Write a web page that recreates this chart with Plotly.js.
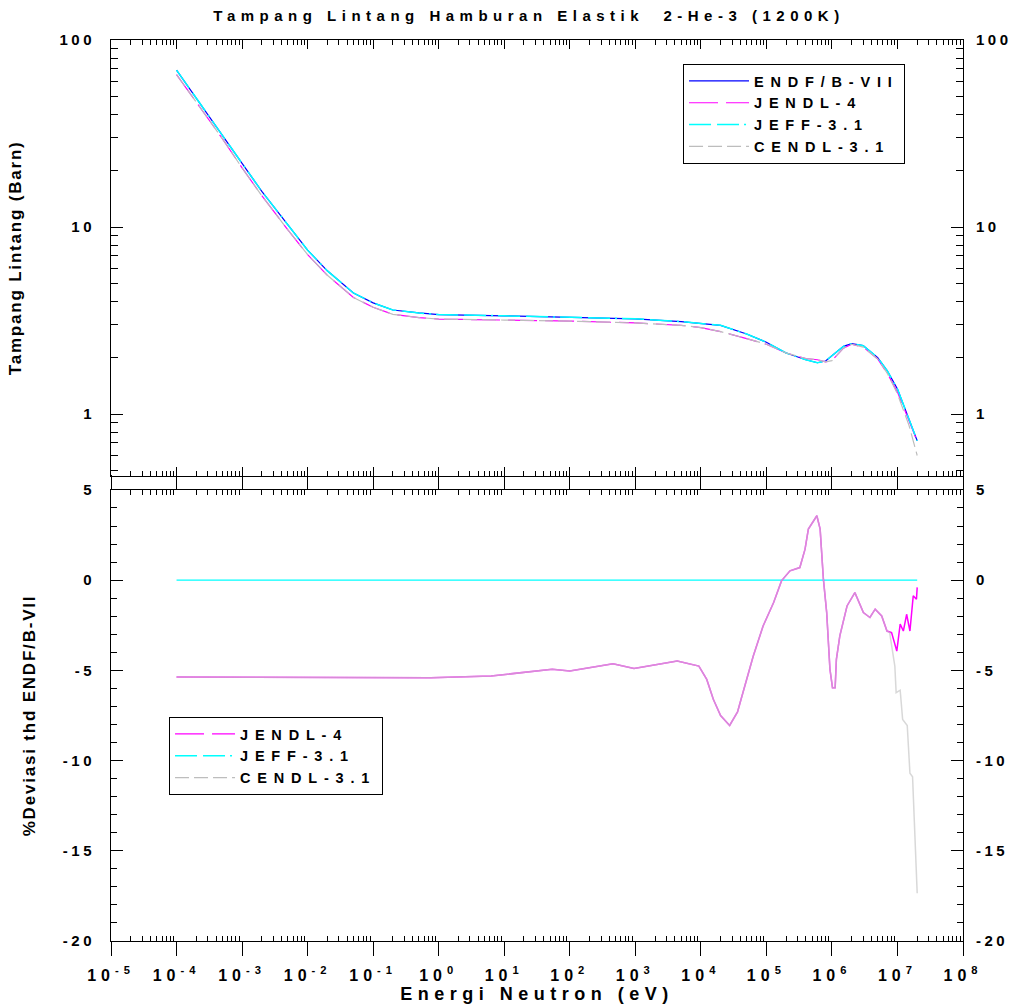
<!DOCTYPE html>
<html>
<head>
<meta charset="utf-8">
<script src="https://cdn.plot.ly/plotly-3.0.1.min.js"></script>
<style>
  html, body { margin: 0; padding: 0; background: #fff; }
  #chart { width: 1032px; height: 1006px; }
  .gtitle { letter-spacing: 5.5px; }
  .legend text, .legend2 text, .legendtext { letter-spacing: 6.8px; }
  .xtick text, .x2tick text { letter-spacing: 5px; }
  .ytick text, .y2tick text, .y3tick text, .y4tick text { letter-spacing: 3.5px; }
  .x2title { letter-spacing: 5.5px; }
  .ytitle, .y2title { letter-spacing: 1.8px; }
</style>
</head>
<body>
<div id="chart"></div>
<script>
// ---------- data ----------
const energyTop = [1e-4, 2e-4, 5e-4, 1e-3, 2e-3, 5e-3, 1e-2, 2e-2, 5e-2, 0.1, 0.2, 0.5, 1, 10, 100, 1e3, 5e3, 1e4, 2e4, 5e4, 1e5, 2e5, 4e5, 6e5, 8e5, 1e6, 1.5e6, 2e6, 3e6, 5e6, 7e6, 1e7, 1.5e7, 2e7];
const sigmaEndf  = [69, 48.9, 31.4, 21.9, 15.5, 10.2, 7.52, 5.83, 4.44, 3.93, 3.60, 3.47, 3.40, 3.35, 3.30, 3.23, 3.12, 3.05, 2.98, 2.68, 2.42, 2.12, 1.95, 1.88, 1.92, 2.05, 2.30, 2.38, 2.32, 2.00, 1.70, 1.36, 0.95, 0.72];
const sigmaJendl = [65.3, 46.3, 29.7, 20.7, 14.7, 9.65, 7.12, 5.52, 4.20, 3.72, 3.41, 3.28, 3.22, 3.18, 3.14, 3.07, 2.98, 2.90, 2.76, 2.53, 2.36, 2.12, 1.98, 1.95, 1.90, 1.93, 2.25, 2.36, 2.28, 1.97, 1.65, 1.31, 0.92, 0.716];
const sigmaJeff  = [69, 48.9, 31.4, 21.9, 15.5, 10.2, 7.52, 5.83, 4.44, 3.93, 3.60, 3.47, 3.40, 3.35, 3.30, 3.23, 3.12, 3.05, 2.98, 2.68, 2.42, 2.12, 1.95, 1.88, 1.92, 2.05, 2.30, 2.38, 2.32, 2.00, 1.70, 1.36, 0.95, 0.72];
const sigmaCendl = [65.3, 46.3, 29.7, 20.7, 14.7, 9.65, 7.12, 5.52, 4.20, 3.72, 3.41, 3.28, 3.22, 3.18, 3.14, 3.07, 2.98, 2.90, 2.76, 2.53, 2.36, 2.12, 1.98, 1.95, 1.90, 1.93, 2.25, 2.36, 2.28, 1.97, 1.65, 1.28, 0.87, 0.60];

const energyDevJendl = [1e-4, 1e-3, 1e-2, 0.1, 0.168, 0.76, 6.3, 54, 100, 457, 955, 4365, 9330, 1.23e4, 1.55e4, 2.0e4, 2.75e4, 3.63e4, 4.17e4, 6.31e4, 8.91e4, 1.29e5, 1.70e5, 2.29e5, 3.24e5, 3.89e5, 4.37e5, 5.89e5, 6.61e5, 7.41e5, 8.32e5, 9.33e5, 1.02e6, 1.12e6, 1.17e6, 1.32e6, 1.70e6, 2.24e6, 3.02e6, 3.80e6, 4.57e6, 5.75e6, 6.92e6, 8.13e6, 9.77e6, 1.10e7, 1.23e7, 1.38e7, 1.55e7, 1.74e7, 1.95e7, 2.0e7];
const devJendl = [-5.37, -5.37, -5.37, -5.37, -5.37, -5.41, -5.31, -4.94, -5.04, -4.63, -4.89, -4.48, -4.76, -5.5, -6.6, -7.5, -8.05, -7.3, -6.52, -4.2, -2.54, -1.24, -0.04, 0.52, 0.7, 1.72, 2.83, 3.57, 2.83, 0.06, -1.8, -4.94, -5.96, -5.96, -4.39, -3.09, -1.43, -0.69, -1.8, -2.07, -1.61, -1.98, -2.82, -2.91, -3.93, -2.44, -2.82, -1.89, -2.82, -0.87, -1.06, -0.4];

const energyDevCendl = [1e-4, 1e-3, 1e-2, 0.1, 0.168, 0.76, 6.3, 54, 100, 457, 955, 4365, 9330, 1.23e4, 1.55e4, 2.0e4, 2.75e4, 3.63e4, 4.17e4, 6.31e4, 8.91e4, 1.29e5, 1.70e5, 2.29e5, 3.24e5, 3.89e5, 4.37e5, 5.89e5, 6.61e5, 7.41e5, 8.32e5, 9.33e5, 1.02e6, 1.12e6, 1.17e6, 1.32e6, 1.70e6, 2.24e6, 3.02e6, 3.80e6, 4.57e6, 5.75e6, 6.92e6, 7.59e6, 9.12e6, 9.55e6, 1.10e7, 1.20e7, 1.41e7, 1.55e7, 1.70e7, 1.86e7, 2.0e7];
const devCendl = [-5.37, -5.37, -5.37, -5.37, -5.37, -5.41, -5.31, -4.94, -5.04, -4.63, -4.89, -4.48, -4.76, -5.5, -6.6, -7.5, -8.05, -7.3, -6.52, -4.2, -2.54, -1.24, -0.04, 0.52, 0.7, 1.72, 2.83, 3.57, 2.83, 0.06, -1.8, -4.94, -5.96, -5.96, -4.39, -3.09, -1.43, -0.69, -1.8, -2.07, -1.61, -1.98, -2.82, -2.9, -4.76, -6.24, -6.1, -7.72, -8.06, -10.7, -10.9, -14.0, -17.35];

const energyDevJeff = [1e-4, 1e-2, 1, 100, 1e4, 1e6, 2e7];
const devJeff = [0, 0, 0, 0, 0, 0, 0];

const xTickVals = [1e-5, 1e-4, 1e-3, 1e-2, 1e-1, 1, 10, 100, 1e3, 1e4, 1e5, 1e6, 1e7, 1e8];
const xTickText = ['10<sup>-5</sup>', '10<sup>-4</sup>', '10<sup>-3</sup>', '10<sup>-2</sup>', '10<sup>-1</sup>', '10<sup>0</sup>', '10<sup>1</sup>', '10<sup>2</sup>', '10<sup>3</sup>', '10<sup>4</sup>', '10<sup>5</sup>', '10<sup>6</sup>', '10<sup>7</sup>', '10<sup>8</sup>'];
const yTopTickVals = [1, 10, 100];
const yTopTickText = ['1', '10', '100'];
const yDevTickVals = [-20, -15, -10, -5, 0, 5];
const yDevTickText = ['-20', '-15', '-10', '-5', '0', '5'];
const seriesNames = ['ENDF/B-VII', 'JENDL-4', 'JEFF-3.1', 'CENDL-3.1'];

// ---------- styling ----------
const FAM = 'Liberation Sans, Arial, Helvetica, sans-serif';
const colEndf = '#0000ff', colJendl = '#ff00ff', colJeff = '#00ffff', colCendl = '#bdbdbd';
const dashJendl = '29px,8px', dashJeff = '22px,6px,22px,5px,2px,5px', dashCendl = '14px,5px';

// minor tick positions for log axes (2..9 in each decade)
function logMinor(lo, hi) {
  const out = [];
  for (let d = lo; d < hi; d++) for (let m = 2; m <= 9; m++) out.push(m * Math.pow(10, d));
  return out;
}

const traces = [
  {x: energyTop, y: sigmaEndf, name: seriesNames[0], type: 'scatter', mode: 'lines', xaxis: 'x', yaxis: 'y',
   line: {color: colEndf, width: 1.2}, legend: 'legend'},
  {x: energyTop, y: sigmaJendl, name: seriesNames[1], type: 'scatter', mode: 'lines', xaxis: 'x', yaxis: 'y',
   line: {color: colJendl, width: 1.2, dash: dashJendl}, legend: 'legend'},
  {x: energyTop, y: sigmaJeff, name: seriesNames[2], type: 'scatter', mode: 'lines', xaxis: 'x', yaxis: 'y',
   line: {color: colJeff, width: 1.5, dash: dashJeff}, legend: 'legend'},
  {x: energyTop, y: sigmaCendl, name: seriesNames[3], type: 'scatter', mode: 'lines', xaxis: 'x', yaxis: 'y',
   line: {color: colCendl, width: 1.2, dash: dashCendl}, legend: 'legend'},

  {x: energyDevJeff, y: devJeff, name: seriesNames[2], type: 'scatter', mode: 'lines', xaxis: 'x2', yaxis: 'y2',
   line: {color: colJeff, width: 1.2}, showlegend: false},
  {x: energyDevJendl, y: devJendl, name: seriesNames[1], type: 'scatter', mode: 'lines', xaxis: 'x2', yaxis: 'y2',
   line: {color: colJendl, width: 1.5}, showlegend: false},
  {x: energyDevCendl, y: devCendl, name: seriesNames[3], type: 'scatter', mode: 'lines', xaxis: 'x2', yaxis: 'y2',
   line: {color: '#c8c8c8', width: 1.5}, opacity: 0.7, showlegend: false},

  // legend entries for the lower panel
  {x: [null], y: [null], name: seriesNames[1], type: 'scatter', mode: 'lines', xaxis: 'x2', yaxis: 'y2',
   line: {color: colJendl, width: 1.2, dash: dashJendl}, legend: 'legend2', showlegend: true},
  {x: [null], y: [null], name: seriesNames[2], type: 'scatter', mode: 'lines', xaxis: 'x2', yaxis: 'y2',
   line: {color: colJeff, width: 1.5, dash: dashJeff}, legend: 'legend2', showlegend: true},
  {x: [null], y: [null], name: seriesNames[3], type: 'scatter', mode: 'lines', xaxis: 'x2', yaxis: 'y2',
   line: {color: colCendl, width: 1.2, dash: dashCendl}, legend: 'legend2', showlegend: true},

  // empty traces so the right-hand label axes are drawn
  {x: [null], y: [null], type: 'scatter', mode: 'lines', xaxis: 'x', yaxis: 'y3', showlegend: false, hoverinfo: 'skip'},
  {x: [null], y: [null], type: 'scatter', mode: 'lines', xaxis: 'x2', yaxis: 'y4', showlegend: false, hoverinfo: 'skip'}
];

const tickFont = {family: FAM, size: 15, color: '#000', weight: 700};
const baseX = {
  type: 'log', range: [-5, 8], showgrid: false, zeroline: false,
  showline: true, linecolor: '#000', linewidth: 1, mirror: 'ticks',
  tickmode: 'array', tickvals: xTickVals, ticktext: xTickText,
  tickcolor: '#000', tickwidth: 1
};
const legendFont = {family: FAM, size: 14.5, color: '#000', weight: 700};

const layout = {
  width: 1032, height: 1006,
  paper_bgcolor: '#fff', plot_bgcolor: '#fff',
  margin: {l: 111, r: 69, t: 40, b: 65},
  font: {family: FAM, color: '#000'},
  title: {text: 'Tampang Lintang Hamburan Elastik  2-He-3 (1200K)',
          font: {family: FAM, size: 15, color: '#000', weight: 700},
          x: 0.5126, xanchor: 'center', y: 0.984, yanchor: 'middle'},
  xaxis: Object.assign({}, baseX, {
    domain: [0, 1], anchor: 'y', ticks: 'inside', ticklen: 9, showticklabels: false,
    minor: {ticks: 'inside', ticklen: 5, tickcolor: '#000', tickmode: 'array', tickvals: logMinor(-5, 8), showgrid: false}
  }),
  yaxis: {
    type: 'log', range: [-0.330, 2], domain: [0.5164, 1], anchor: 'x',
    showgrid: false, zeroline: false, showline: true, linecolor: '#000', linewidth: 1, mirror: 'ticks',
    tickmode: 'array', tickvals: yTopTickVals, ticktext: yTopTickText, ticks: 'inside', ticklen: 12,
    tickcolor: '#000', tickfont: tickFont, ticklabelstandoff: 12,
    minor: {ticks: 'inside', ticklen: 7, tickcolor: '#000', tickmode: 'array', tickvals: logMinor(-1, 2), showgrid: false},
    title: {text: 'Tampang Lintang (Barn)', font: {family: FAM, size: 17, color: '#000', weight: 700}, standoff: 33}
  },
  yaxis3: {
    type: 'log', range: [-0.330, 2], overlaying: 'y', side: 'right', anchor: 'x',
    showgrid: false, zeroline: false, showline: false, ticks: '',
    tickmode: 'array', tickvals: yTopTickVals, ticktext: yTopTickText,
    tickfont: tickFont, ticklabelstandoff: 12
  },
  xaxis2: Object.assign({}, baseX, {
    domain: [0, 1], anchor: 'y2', ticks: 'outside', ticklen: 14, ticklabelstandoff: 6,
    tickfont: {family: FAM, size: 16, color: '#000', weight: 700},
    minor: {ticks: 'inside', ticklen: 5, tickcolor: '#000', tickmode: 'array', tickvals: logMinor(-5, 8), showgrid: false},
    title: {text: 'Energi Neutron (eV)', font: {family: FAM, size: 18, color: '#000', weight: 700}, standoff: 4}
  }),
  yaxis2: {
    range: [-20, 5], domain: [0, 0.5006], anchor: 'x2',
    showgrid: false, zeroline: false, showline: true, linecolor: '#000', linewidth: 1, mirror: 'ticks',
    tickmode: 'array', tickvals: yDevTickVals, ticktext: yDevTickText, ticks: 'inside', ticklen: 12,
    tickcolor: '#000', tickfont: tickFont, ticklabelstandoff: 12,
    minor: {ticks: 'inside', ticklen: 6, tickcolor: '#000', dtick: 1, showgrid: false},
    title: {text: '%Deviasi thd ENDF/B-VII', font: {family: FAM, size: 17, color: '#000', weight: 700}, standoff: 22}
  },
  yaxis4: {
    range: [-20, 5], overlaying: 'y2', side: 'right', anchor: 'x2',
    showgrid: false, zeroline: false, showline: false, ticks: '',
    tickmode: 'array', tickvals: yDevTickVals, ticktext: yDevTickText,
    tickfont: tickFont, ticklabelstandoff: 12
  },
  legend: {
    x: 0.6714, y: 0.9734, xanchor: 'left', yanchor: 'top',
    bgcolor: '#fff', bordercolor: '#000', borderwidth: 1,
    font: legendFont, itemwidth: 60, tracegroupgap: 0, traceorder: 'normal'
  },
  legend2: {
    x: 0.0681, y: 0.2486, xanchor: 'left', yanchor: 'top',
    bgcolor: '#fff', bordercolor: '#000', borderwidth: 1,
    font: legendFont, itemwidth: 60, tracegroupgap: 0, traceorder: 'normal'
  },
  showlegend: true
};

Plotly.newPlot('chart', traces, layout, {staticPlot: true, displayModeBar: false});
</script>
</body>
</html>
